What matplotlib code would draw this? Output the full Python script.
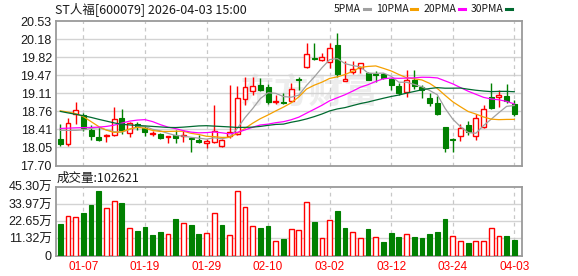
import numpy as np
import pandas as pd
import matplotlib
matplotlib.use("Agg")
import matplotlib.pyplot as plt

# ---------------- data ----------------
dates = ["12-31", "01-05", "01-06", "01-07", "01-08", "01-09", "01-12", "01-13", "01-14", "01-15",
         "01-16", "01-19", "01-20", "01-21", "01-22", "01-23", "01-26", "01-27", "01-28", "01-29",
         "01-30", "02-02", "02-03", "02-04", "02-05", "02-06", "02-09", "02-10", "02-11", "02-12",
         "02-13", "02-24", "02-25", "02-26", "02-27", "03-02", "03-03", "03-04", "03-05", "03-06",
         "03-09", "03-10", "03-11", "03-12", "03-13", "03-16", "03-17", "03-18", "03-19", "03-20",
         "03-23", "03-24", "03-25", "03-26", "03-27", "03-30", "03-31", "04-01", "04-02", "04-03"]

opens = [18.217, 18.113, 18.703, 18.689, 18.394, 18.251, 18.270, 18.296, 18.624, 18.329,
         18.512, 18.427, 18.321, 18.316, 18.256, 18.296, 18.276, 18.243, 18.198, 18.133,
         18.164, 18.080, 18.276, 18.310, 18.997, 19.166, 19.272, 19.245, 18.950, 18.938,
         18.970, 19.396, 19.626, 19.815, 19.776, 19.736, 20.064, 19.351, 19.540, 19.618,
         19.508, 19.489, 19.494, 19.396, 19.265, 19.147, 19.371, 19.233, 19.017, 18.919,
         18.447, 18.217, 18.282, 18.492, 18.282, 18.447, 19.036, 19.036, 19.062, 18.899]
highs = [18.506, 18.624, 18.938, 18.734, 18.492, 18.459, 18.316, 18.846, 18.807, 18.545,
         18.545, 18.473, 18.380, 18.329, 18.282, 18.394, 18.394, 18.263, 18.296, 18.217,
         18.885, 18.217, 19.278, 19.265, 19.441, 19.441, 19.422, 19.298, 19.082, 19.127,
         19.312, 19.436, 20.098, 20.098, 19.907, 20.098, 20.294, 19.750, 19.750, 19.705,
         19.540, 19.553, 19.514, 19.422, 19.312, 19.573, 19.573, 19.278, 19.127, 19.060,
         18.447, 18.230, 18.506, 18.571, 18.703, 18.885, 19.312, 19.180, 19.292, 18.984]
lows = [18.080, 18.086, 18.518, 18.374, 18.198, 18.178, 18.164, 18.282, 18.310, 18.263,
        18.394, 18.270, 18.282, 18.223, 18.133, 18.145, 18.152, 17.968, 18.133, 18.046,
        18.145, 18.054, 18.243, 18.296, 18.885, 19.082, 19.160, 18.899, 18.899, 18.899,
        18.938, 19.180, 19.606, 19.764, 19.744, 19.606, 19.441, 19.351, 19.489, 19.508,
        19.371, 19.343, 19.396, 19.180, 19.082, 19.048, 19.200, 19.029, 18.872, 18.689,
        17.956, 17.956, 18.184, 18.296, 18.198, 18.427, 18.807, 18.840, 18.919, 18.675]
closes = [18.120, 18.526, 18.787, 18.427, 18.282, 18.198, 18.296, 18.616, 18.394, 18.526,
          18.447, 18.349, 18.335, 18.243, 18.276, 18.243, 18.290, 18.211, 18.164, 18.178,
          18.374, 18.198, 18.361, 19.023, 19.239, 19.265, 19.180, 18.938, 18.958, 18.925,
          19.200, 19.382, 19.893, 19.783, 19.829, 19.999, 19.489, 19.396, 19.593, 19.705,
          19.377, 19.475, 19.416, 19.278, 19.127, 19.371, 19.265, 19.180, 18.919, 18.703,
          18.046, 18.204, 18.439, 18.349, 18.624, 18.801, 18.832, 19.082, 18.964, 18.710]
# volume, in units of 10^4 (万)
volumes = [20.7, 25.8, 25.1, 28.0, 33.2, 42.5, 31.1, 35.9, 34.6, 17.9,
           16.1, 18.5, 13.3, 15.5, 14.0, 24.0, 21.2, 20.1, 14.0, 14.6,
           27.8, 20.1, 13.3, 42.5, 31.7, 19.2, 18.1, 19.4, 9.5, 10.9,
           17.4, 16.8, 35.2, 22.1, 11.3, 23.4, 29.3, 18.1, 15.3, 11.3,
           17.4, 12.0, 8.9, 14.6, 12.0, 14.0, 12.0, 11.3, 14.2, 15.5,
           23.8, 12.6, 9.5, 8.2, 9.3, 9.3, 17.9, 12.6, 12.8, 10.2621]

# moving-average values at the start of the window (they depend on earlier sessions)
ma5_head = [18.39, 18.39, 18.39, 18.40]
ma10_head = [18.773, 18.748, 18.718, 18.659, 18.561, 18.463, 18.394, 18.349, 18.361]
ma20_head = [18.427, 18.433, 18.439, 18.443, 18.447, 18.453, 18.467, 18.492, 18.532, 18.571,
             18.591, 18.600, 18.561, 18.502, 18.453, 18.423, 18.384, 18.355, 18.341]
ma30_head = [18.762, 18.732, 18.705, 18.677, 18.644, 18.606, 18.571, 18.536, 18.508, 18.496,
             18.486, 18.477, 18.467, 18.457, 18.447, 18.445, 18.453, 18.465, 18.477, 18.481,
             18.473, 18.465, 18.457, 18.447, 18.449, 18.453, 18.467, 18.488, 18.506]

price_ticks = ["17.70", "18.05", "18.41", "18.76", "19.11", "19.47", "19.82", "20.18", "20.53"]
vol_ticks = ["0", "11.32万", "22.65万", "33.97万", "45.30万"]
date_ticks = ["01-07", "01-19", "01-29", "02-10", "03-02", "03-12", "03-24", "04-03"]
title = "ST人福[600079] 2026-04-03 15:00"
last_volume_label = "成交量:102621"
ma_names = ["5PMA", "10PMA", "20PMA", "30PMA"]

# ---------------- styles ----------------
RED = "#FF0000"
GREEN = "#008000"
MA_COLORS = ["#A0A0A0", "#F5A000", "#FF00FF", "#006A30"]
GRID = "#D3D3D3"
FRAME = "#9A9A9A"
NUMF = ["Liberation Sans", "Noto Sans CJK SC", "DejaVu Sans"]
CJKF = ["Noto Sans CJK SC", "DejaVu Sans"]

df = pd.DataFrame({"open": opens, "high": highs, "low": lows, "close": closes, "vol": volumes})
n = len(df)
x = np.arange(n)

def moving_average(series, window, head):
    ma = series.rolling(window).mean().to_numpy()
    ma[:len(head)] = head
    return ma

mas = [moving_average(df["close"], 5, ma5_head),
       moving_average(df["close"], 10, ma10_head),
       moving_average(df["close"], 20, ma20_head),
       moving_average(df["close"], 30, ma30_head)]

W, H = 578, 276
fig = plt.figure(figsize=(W / 100, H / 100), dpi=100)
fig.patch.set_facecolor("white")

def px_axes(left, top, right, bottom):
    return fig.add_axes([left / W, 1 - bottom / H, (right - left) / W, (bottom - top) / H])

ax = px_axes(56, 21.3, 522.3, 165.5)
axv = px_axes(56, 186.7, 522.3, 255.5)

pmin, pmax = float(price_ticks[0]), float(price_ticks[-1])
pvals = np.linspace(pmin, pmax, len(price_ticks))
vmax = float(vol_ticks[-1].rstrip("万"))
vvals = np.linspace(0, vmax, len(vol_ticks))
tick_idx = [dates.index(d) for d in date_ticks]

for a in (ax, axv):
    a.set_xlim(-0.56, n - 1 + 1.04)
    a.set_facecolor("white")
    for s in a.spines.values():
        s.set_color(FRAME)
        s.set_linewidth(1.3)
    a.tick_params(length=0)
    for xi in tick_idx:
        a.axvline(xi, color="#C8C8C8", lw=0.9, ls=(0, (3, 3)), zorder=0.5)

# watermark
ax.text(0.543, 0.51, "东方财富", transform=ax.transAxes, fontsize=25, fontweight="bold",
        color="#EDEDED", ha="center", va="center", family=CJKF, zorder=0.2)

# price axis
ax.set_ylim(pmin, pmax)
ax.set_yticks(pvals)
ax.set_yticklabels(price_ticks, family=NUMF, fontsize=9, color="#1A1A1A")
ax.tick_params(axis="y", pad=3)
ax.set_xticks([])
for v in pvals[1:-1]:
    ax.axhline(v, color=GRID, lw=1.0, zorder=0.4)

up = df["close"] >= df["open"]
body_w = 0.64
for i in range(n):
    o, h, l, c = df.loc[i, ["open", "high", "low", "close"]]
    lo_b, hi_b = min(o, c), max(o, c)
    hgt = max(hi_b - lo_b, 0.004)
    if up[i]:
        ax.vlines(i, l, lo_b, color=RED, lw=1.0, zorder=3)
        ax.vlines(i, hi_b, h, color=RED, lw=1.0, zorder=3)
        ax.bar(i, hgt, bottom=lo_b, width=body_w, facecolor="white", edgecolor=RED, lw=1.0, zorder=3)
    else:
        ax.vlines(i, l, h, color=GREEN, lw=1.0, zorder=3)
        ax.bar(i, hgt, bottom=lo_b, width=body_w, facecolor=GREEN, edgecolor=GREEN, lw=0.8, zorder=3)

for ma, col in zip(mas, MA_COLORS):
    ax.plot(x, ma, color=col, lw=0.9, zorder=4)

# volume axis
axv.set_ylim(0, vmax)
axv.set_yticks(vvals)
axv.set_yticklabels(vol_ticks, family=NUMF, fontsize=9, color="#1A1A1A")
axv.tick_params(axis="y", pad=3)
for v in vvals[1:-1]:
    axv.axhline(v, color=GRID, lw=1.0, zorder=0.4)
axv.set_xticks(tick_idx)
axv.set_xticklabels(date_ticks, family=NUMF, fontsize=8.5, color=RED)
axv.tick_params(axis="x", pad=4)

prev_close = df["close"].shift(1).fillna(df["open"])
vol_up = df["close"] >= prev_close
vol_w = 0.62
for i in range(n):
    if vol_up[i]:
        axv.bar(i, df.loc[i, "vol"], width=vol_w, facecolor="white", edgecolor=RED, lw=1.0, zorder=3)
    else:
        axv.bar(i, df.loc[i, "vol"], width=vol_w, facecolor=GREEN, edgecolor=GREEN, lw=0.8, zorder=3)

# texts
fig.text(55 / W, 1 - 9 / H, title, family=CJKF, fontsize=9, color="#1A1A1A", ha="left", va="center")
fig.text(57 / W, 1 - 178.5 / H, last_volume_label, family=CJKF, fontsize=9, color="#1A1A1A",
         ha="left", va="center")

# MA legend: label followed by a short coloured dash, laid out between x=334 and x=512 px
fig.canvas.draw()
renderer = fig.canvas.get_renderer()
leg_left, leg_right, dash_len, text_gap = 334.0, 512.0, 6.0, 2.5
fs = 8.5
while True:
    probes = [fig.text(0, 0, s, family=CJKF, fontsize=fs) for s in ma_names]
    widths = [t.get_window_extent(renderer).width for t in probes]
    for t in probes:
        t.remove()
    gap = (leg_right - leg_left - sum(widths) - len(ma_names) * (text_gap + dash_len)) / (len(ma_names) - 1)
    if gap >= 4.5 or fs <= 6.5:
        break
    fs -= 0.25
cx = leg_left
for name, col, wdt in zip(ma_names, MA_COLORS, widths):
    fig.text(cx / W, 1 - 9 / H, name, family=CJKF, fontsize=fs, color="#1A1A1A", ha="left", va="center")
    dx = cx + wdt + text_gap
    fig.add_artist(plt.Line2D([dx / W, (dx + dash_len) / W], [1 - 9 / H, 1 - 9 / H], color=col, lw=2.2,
                              transform=fig.transFigure))
    cx = dx + dash_len + gap

fig.savefig("out.png", dpi=100, facecolor="white")
